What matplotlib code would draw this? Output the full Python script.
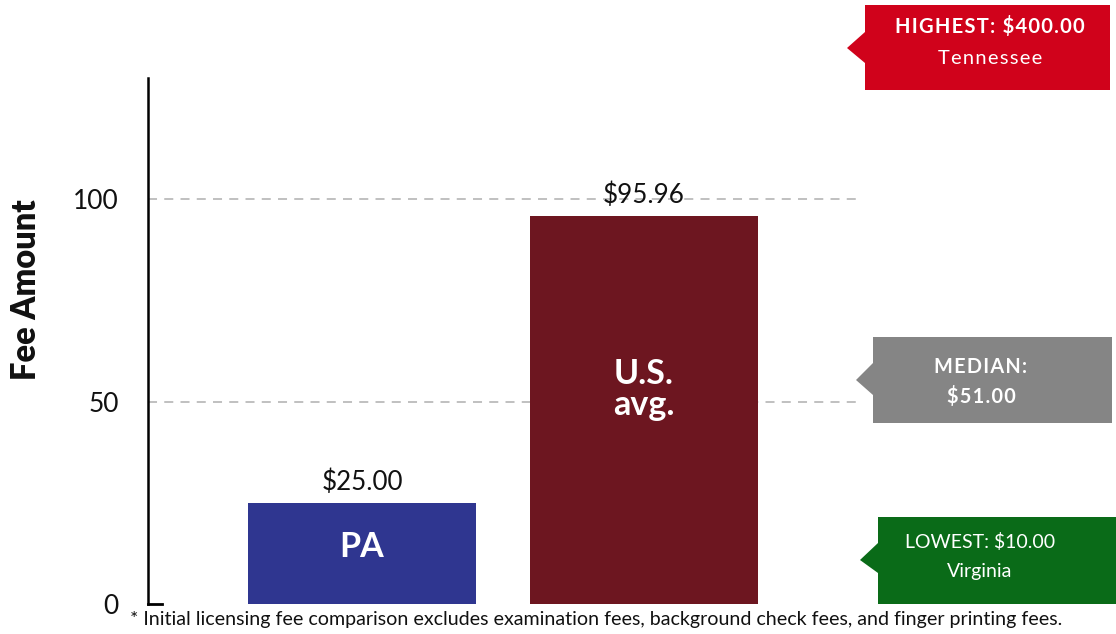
import matplotlib
matplotlib.use('Agg')
import matplotlib.pyplot as plt
from matplotlib.patches import Polygon

plt.rcParams['font.family'] = ['Lato', 'DejaVu Sans']

# data
categories = ['PA', 'U.S.\navg.']
fees = [25.00, 95.96]
bar_colors = ['#2f3690', '#6d1620']
label_y = [14, 53]
yticks = [0, 50, 100]
highest = ('HIGHEST: $400.00', 'Tennessee')
median = ('MEDIAN:', '$51.00')
lowest = ('LOWEST: $10.00', 'Virginia')
footnote = '* Initial licensing fee comparison excludes examination fees, background check fees, and finger printing fees.'

W, H = 1116, 634
fig = plt.figure(figsize=(W / 100, H / 100), dpi=100)
ax = fig.add_axes([148 / W, 1 - 604 / H, (857 - 148) / W, (604 - 78) / H])

x = list(range(len(categories)))
bars = ax.bar(x, fees, width=0.81, color=bar_colors, zorder=3)
ax.set_xlim(-0.759, 1.755)
ax.set_ylim(0, 130)

for xi, v, lab, ly in zip(x, fees, categories, label_y):
    ax.text(xi, v + 2, '${:.2f}'.format(v), ha='center', va='bottom', fontsize=18.7, color='#111111')
    ax.text(xi, ly, lab, ha='center', va='center', fontsize=24.5, fontweight='bold',
            color='white', linespacing=0.95)

for t in yticks[1:]:
    ax.axhline(t, color='#bbbbbb', lw=1.3, ls=(0, (5, 4)), zorder=1)
ax.plot([0, 14 / 709], [0, 0], transform=ax.transAxes, color='black', lw=2, clip_on=False)

for s in ['top', 'right', 'bottom']:
    ax.spines[s].set_visible(False)
ax.spines['left'].set_linewidth(1.8)
ax.set_xticks([])
ax.set_yticks(yticks)
ax.tick_params(axis='y', length=0, pad=21, labelsize=19, labelcolor='#111111')
ax.set_ylabel('Fee Amount', fontsize=23.5, fontweight='heavy', color='#111111')
ax.yaxis.set_label_coords(-0.149, 0.597)


def px(xp, yp):
    return (xp / W, 1 - yp / H)


def spaced(s, on):
    return '\u200a'.join(s) if on else s


def callout(x0, x1, y0, y1, tip, ny0, ny1, color, lines, line_y, weights, cx, track, fs):
    pts = [px(x0, y0), px(x1, y0), px(x1, y1), px(x0, y1), px(x0, ny1), px(tip[0], tip[1]), px(x0, ny0)]
    fig.patches.append(Polygon(pts, closed=True, transform=fig.transFigure, facecolor=color,
                               edgecolor='none', figure=fig))
    for txt, ly, wt in zip(lines, line_y, weights):
        fig.text(cx / W, 1 - ly / H, spaced(txt, track), ha='center', va='center', fontsize=fs,
                 fontweight=wt, color='white')


callout(865, 1110, 5, 90, (847, 48), 32, 63, '#d0021b', highest, [27, 58], ['bold', 'normal'], 990, True, 14.5)
callout(873, 1112, 337, 423, (856, 380), 363, 395, '#858585', median, [367, 397], ['bold', 'bold'], 981, True, 14.3)
callout(878, 1116, 517, 604, (860, 560), 543, 573, '#0a6b18', lowest, [542, 572], ['normal', 'normal'], 980, False, 14)

fig.text(130 / W, 1 - 620 / H, footnote, ha='left', va='center', fontsize=14.1, color='#111111')

fig.savefig('out.png', dpi=100)
